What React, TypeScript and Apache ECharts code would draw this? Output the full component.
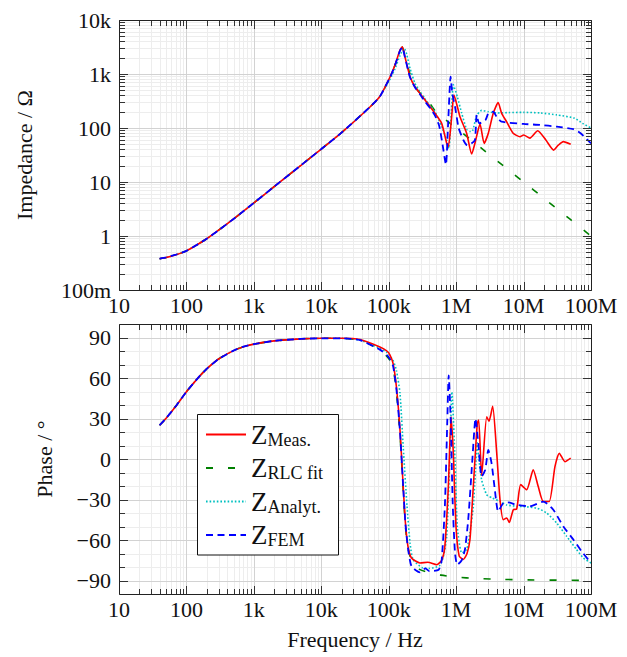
import React, { useEffect, useRef } from 'react';
import * as echarts from 'echarts';

const FONT = 'Liberation Serif';
const TEXT = '#111';

// ---- tick values & labels ----
const freqTicks = [10, 100, 1e3, 1e4, 1e5, 1e6, 1e7, 1e8];
const freqTickLabels = ['10', '100', '1k', '10k', '100k', '1M', '10M', '100M'];
const magTicks = [0.1, 1, 10, 100, 1e3, 1e4];
const magTickLabels = ['100m', '1', '10', '100', '1k', '10k'];
const phaseTicks = [-90, -60, -30, 0, 30, 60, 90];
const phaseTickLabels = ['\u221290', '\u221260', '\u221230', '0', '30', '60', '90'];
const phaseMinorTicks = [-80, -70, -50, -40, -20, -10, 10, 20, 40, 50, 70, 80];
const minorMultipliers = [2, 3, 4, 5, 6, 7, 8, 9];

// ---- data: [frequency Hz, |Z| ohm] ----
const commonMag = [
  [40, 0.38], [50, 0.4], [70, 0.45], [100, 0.53], [150, 0.71], [200, 0.89], [300, 1.28],
  [500, 2.07], [700, 2.88], [1000, 4.1], [2000, 8.2], [5000, 20.4], [10000, 40.8],
  [20000, 82], [52700, 245], [74000, 385],
];
const measMagHigh = [
  [104500, 880], [124000, 1470], [147000, 2780], [159000, 3200], [174000, 2090], [207000, 890],
  [245000, 580], [291000, 438], [345000, 331], [410000, 248], [486000, 187], [610000, 122],
  [724000, 52], [766000, 45], [850000, 140], [929000, 408], [1140000, 162], [1430000, 80],
  [1700000, 33], [1900000, 52], [2260000, 118], [2600000, 52], [3000000, 80], [3550000, 187],
  [4200000, 295], [4730000, 187], [5600000, 131], [7000000, 80], [8850000, 69], [10000000, 74],
  [12400000, 65], [16200000, 89], [21400000, 60], [28000000, 39], [32700000, 48],
  [38900000, 56], [50000000, 50],
];
const rlcMagHigh = [
  [104500, 870], [124000, 1450], [147000, 2750], [159000, 3150], [174000, 2100], [207000, 1000],
  [250000, 570], [300000, 420], [345000, 340], [410000, 280], [486000, 210], [610000, 162],
  [1000000, 100], [2000000, 50], [5000000, 20], [10000000, 10], [20000000, 5], [50000000, 2],
  [100000000, 1],
];
const analytMagHigh = [
  [104500, 800], [124000, 1250], [147000, 2200], [170000, 2990], [185000, 2300], [207000, 1270],
  [245000, 675], [291000, 470], [345000, 350], [410000, 260], [486000, 200], [610000, 106],
  [724000, 60], [780000, 42], [850000, 200], [908000, 630], [1040000, 380], [1210000, 187],
  [1430000, 95], [1600000, 86], [1750000, 88], [2020000, 170], [2390000, 212], [3000000, 200],
  [4000000, 190], [6000000, 193], [10000000, 195], [17500000, 190], [31000000, 175],
  [57000000, 152], [75000000, 122], [100000000, 100],
];
const femMagHigh = [
  [104500, 870], [124000, 1450], [147000, 2700], [159000, 3100], [174000, 2050], [207000, 870],
  [245000, 570], [291000, 420], [345000, 310], [410000, 235], [486000, 170], [560000, 110],
  [625000, 52], [705000, 21], [760000, 120], [828000, 890], [877000, 438], [962000, 248],
  [1090000, 100], [1280000, 60], [1460000, 48], [1700000, 52], [1900000, 60], [2020000, 175],
  [2200000, 122], [2730000, 141], [3000000, 187], [3550000, 200], [3980000, 162],
  [4730000, 131], [10000000, 119], [17500000, 114], [31000000, 106], [55000000, 95],
  [70000000, 80], [100000000, 52],
];

// ---- data: [frequency Hz, phase deg] ----
const commonPhase = [
  [40, 25], [50, 30.2], [70, 39.3], [100, 49.8], [150, 60.3], [200, 66.8], [300, 74.1],
  [500, 80.3], [700, 83.2], [1000, 85.1], [2000, 87.5], [5000, 89], [10000, 89.4], [20000, 89.4],
];
const measPhaseHigh = [
  [37500, 88.5], [74000, 83], [94000, 80], [104500, 77], [116000, 70.8], [130000, 53.5],
  [147000, 21.5], [164000, -20.4], [177000, -47.4], [193000, -64.7], [218000, -73.3],
  [291000, -77], [380000, -76.5], [515000, -78.3], [610000, -75], [680000, -64.7],
  [766000, -20.4], [840000, 31.3], [908000, 4.3], [995000, -50], [1110000, -72],
  [1280000, -74.4], [1450000, -70], [1600000, -60], [1700000, -40], [1900000, -0.7],
  [2060000, 26.4], [2160000, 28.9], [2390000, -12], [2840000, 31.3], [3070000, 28],
  [3480000, 39], [3990000, 5], [4470000, -30], [5000000, -45], [5620000, -43.7],
  [6140000, -47], [7030000, -37.6], [7900000, -37], [9060000, -19], [11100000, -22.8],
  [13900000, -8], [16500000, -20.4], [19600000, -31.5], [24000000, -31.5], [29200000, -5.6],
  [33900000, 4.3], [41100000, -2], [50000000, 0.6],
];
const rlcPhaseHigh = [
  [37500, 88], [74000, 81], [94000, 76], [104500, 73], [116000, 68], [130000, 50],
  [147000, 18], [164000, -23], [177000, -50], [193000, -66], [218000, -75], [291000, -82],
  [400000, -84], [600000, -86], [1000000, -87.5], [2000000, -88.5], [5000000, -89.2],
  [10000000, -89.5], [100000000, -90],
];
const analytPhaseHigh = [
  [37500, 88], [74000, 82], [94000, 79], [116000, 73], [130000, 65.8], [147000, 48.6],
  [164000, 9.2], [187000, -35], [207000, -62], [230000, -74.5], [320000, -80.7],
  [400000, -81], [567000, -79], [650000, -72], [725000, -57], [811000, 4.3], [865000, 49.8],
  [962000, -0.6], [1040000, -50], [1210000, -69.6], [1430000, -67], [1600000, -54.8],
  [1800000, -35], [1930000, -10], [2050000, 12], [2150000, 2], [2390000, -15.5],
  [2840000, -26.5], [3480000, -29], [4470000, -31.5], [5620000, -34], [7900000, -35],
  [11100000, -35.4], [16000000, -36.5], [22000000, -40], [31000000, -47.4],
  [43600000, -57.3], [61000000, -67], [77000000, -73.3], [100000000, -77],
];
const femPhaseHigh = [
  [37500, 88], [74000, 81], [94000, 77], [104500, 74], [116000, 69], [130000, 52],
  [147000, 20], [164000, -21], [177000, -48], [193000, -66], [218000, -79.5], [291000, -84],
  [350000, -81], [400000, -83], [550000, -82], [610000, -75], [680000, -35], [740000, 28.9],
  [775000, 62], [830000, 28.9], [889000, -32.7], [962000, -69.6], [1040000, -78.3],
  [1210000, -75], [1350000, -67], [1510000, -45], [1700000, -8], [1860000, 21.5],
  [1930000, 30], [2130000, 11.7], [2390000, -13], [2700000, -8], [3000000, 6.7],
  [3350000, -3], [3750000, -22.8], [4200000, -38.8], [5000000, -32.7], [5900000, -32.2],
  [7900000, -34], [12400000, -35], [19600000, -31.5], [27600000, -37.6], [38900000, -50],
  [55000000, -59.8], [72600000, -68.4], [91000000, -74.5], [100000000, -77],
];

const seriesNames = ['Meas.', 'RLC fit', 'Analyt.', 'FEM'];
const seriesColors = ['#ff0000', '#008000', '#00c0c0', '#0000ff'];

function logMinors(lo: number, hi: number) {
  const out: number[] = [];
  for (let d = lo; d < hi; d *= 10) minorMultipliers.forEach((m) => out.push(m * d));
  return out;
}
const freqMinor = logMinors(10, 1e8);
const magMinor = logMinors(0.1, 1e4);

const MAJOR_GRID = '#d2d2d2';
const MINOR_GRID = '#ededed';
const FRAME = '#222';
const TICK = '#333';

function snap(v: number) {
  return Math.round(v) + 0.5;
}

function gridRenderer(yMajor: number[], yMinor: number[], yRef: number) {
  return (params: any, api: any) => {
    const cs = params.coordSys;
    const t = cs.y, b = cs.y + cs.height, l = cs.x, r = cs.x + cs.width;
    const children: any[] = [];
    const vx = (v: number) => snap(api.coord([v, yRef])[0]);
    const vy = (v: number) => snap(api.coord([1000, v])[1]);
    const add = (x1: number, y1: number, x2: number, y2: number, stroke: string) =>
      children.push({ type: 'line', shape: { x1, y1, x2, y2 }, style: { stroke, lineWidth: 1 } });
    freqMinor.forEach((v) => { const x = vx(v); add(x, t, x, b, MINOR_GRID); });
    yMinor.forEach((v) => { const y = vy(v); add(l, y, r, y, MINOR_GRID); });
    freqTicks.forEach((v) => { const x = vx(v); add(x, t, x, b, MAJOR_GRID); });
    yMajor.forEach((v) => { const y = vy(v); add(l, y, r, y, MAJOR_GRID); });
    return { type: 'group', children };
  };
}

function tickRenderer(yMajor: number[], yMinor: number[], yRef: number) {
  return (params: any, api: any) => {
    const cs = params.coordSys;
    const t = snap(cs.y), b = snap(cs.y + cs.height), l = snap(cs.x), r = snap(cs.x + cs.width);
    const children: any[] = [];
    const vx = (v: number) => snap(api.coord([v, yRef])[0]);
    const vy = (v: number) => snap(api.coord([1000, v])[1]);
    const add = (x1: number, y1: number, x2: number, y2: number) =>
      children.push({ type: 'line', shape: { x1, y1, x2, y2 }, style: { stroke: TICK, lineWidth: 1 } });
    const MAJ = 8.5, MIN = 5.5;
    freqTicks.forEach((v) => { const x = vx(v); add(x, b, x, b - MAJ); add(x, t, x, t + MAJ); });
    freqMinor.forEach((v) => { const x = vx(v); add(x, b, x, b - MIN); add(x, t, x, t + MIN); });
    yMajor.forEach((v) => { const y = vy(v); add(l, y, l + MAJ, y); add(r, y, r - MAJ, y); });
    yMinor.forEach((v) => { const y = vy(v); add(l, y, l + MIN, y); add(r, y, r - MIN, y); });
    children.push({
      type: 'rect',
      shape: { x: l, y: t, width: r - l, height: b - t },
      style: { fill: 'none', stroke: FRAME, lineWidth: 1 },
    });
    return { type: 'group', children };
  };
}

function freqLabel(v: number) {
  const i = freqTicks.findIndex((t) => Math.abs(Math.log10(t) - Math.log10(v)) < 1e-6);
  return i >= 0 ? freqTickLabels[i] : '';
}
function magLabel(v: number) {
  const i = magTicks.findIndex((t) => Math.abs(Math.log10(t) - Math.log10(v)) < 1e-6);
  return i >= 0 ? magTickLabels[i] : '';
}
function phaseLabel(v: number) {
  const i = phaseTicks.indexOf(Math.round(v));
  return i >= 0 ? phaseTickLabels[i] : '';
}

const txt = { fontFamily: FONT, fontSize: 22, fontStyle: 'normal', fontWeight: 'normal', color: TEXT };

function xAxisFor(gridIndex: number, withName: boolean) {
  return {
    type: 'log',
    logBase: 10,
    gridIndex,
    min: 10,
    max: 1e8,
    axisLine: { show: false },
    axisTick: { show: false },
    splitLine: { show: false },
    minorTick: { show: false },
    axisLabel: {
      ...txt,
      margin: 4,
      customValues: freqTicks,
      formatter: (v: number) => freqLabel(v),
      showMinLabel: true,
      showMaxLabel: true,
    },
    name: withName ? 'Frequency / Hz' : '',
    nameLocation: 'middle',
    nameGap: 34,
    nameTextStyle: { ...txt },
  };
}

const lineStyles = [
  { width: 1.6, type: 'solid' },
  { width: 1.6, type: [7, 15] },
  { width: 1.6, type: [1.6, 2] },
  { width: 1.8, type: [7, 4.5] },
];

function curve(nameIdx: number, axisIdx: number, data: number[][], z: number) {
  return {
    type: 'line',
    name: seriesNames[nameIdx],
    xAxisIndex: axisIdx,
    yAxisIndex: axisIdx,
    data,
    showSymbol: false,
    symbol: 'none',
    smooth: 0.2,
    color: seriesColors[nameIdx],
    lineStyle: { color: seriesColors[nameIdx], ...lineStyles[nameIdx] },
    z,
  };
}

const option: any = {
  animation: false,
  backgroundColor: '#fff',
  grid: [
    { left: 119, top: 20, width: 472, height: 270 },
    { left: 119, top: 324, width: 472, height: 270 },
  ],
  xAxis: [xAxisFor(0, false), xAxisFor(1, true)],
  yAxis: [
    {
      type: 'log',
      logBase: 10,
      gridIndex: 0,
      min: 0.1,
      max: 1e4,
      axisLine: { show: false },
      axisTick: { show: false },
      splitLine: { show: false },
      axisLabel: {
        ...txt,
        margin: 8,
        customValues: magTicks,
        formatter: (v: number) => magLabel(v),
        showMinLabel: true,
        showMaxLabel: true,
      },
      name: 'Impedance / \u03A9',
      nameLocation: 'middle',
      nameGap: 84,
      nameTextStyle: { ...txt },
    },
    {
      type: 'value',
      gridIndex: 1,
      min: -100,
      max: 100,
      axisLine: { show: false },
      axisTick: { show: false },
      splitLine: { show: false },
      axisLabel: {
        ...txt,
        margin: 8,
        customValues: phaseTicks,
        formatter: (v: number) => phaseLabel(v),
      },
      name: 'Phase / \u00B0',
      nameLocation: 'middle',
      nameGap: 64,
      nameTextStyle: { ...txt },
    },
  ],
  legend: {
    data: seriesNames,
    orient: 'vertical',
    left: 205,
    top: 421,
    padding: 0,
    itemWidth: 40,
    itemHeight: 10,
    itemGap: 6,
    selectedMode: false,
    z: 12,
    itemStyle: { opacity: 0, borderWidth: 0 },
    formatter: (name: string) => `{z|Z}{s|${name}}`,
    textStyle: {
      fontFamily: FONT,
      fontSize: 18,
      fontStyle: 'normal',
      fontWeight: 'normal',
      color: TEXT,
      rich: {
        z: { fontFamily: FONT, fontSize: 27, lineHeight: 28, color: TEXT },
        s: { fontFamily: FONT, fontSize: 18, lineHeight: 18, verticalAlign: 'bottom', color: TEXT },
      },
    },
  },
  graphic: [
    {
      type: 'rect',
      z: 10,
      shape: { x: 197.5, y: 414.5, width: 141, height: 140.5 },
      style: { fill: '#fff', stroke: '#111', lineWidth: 1 },
    },
  ],
  series: [
    {
      type: 'custom', xAxisIndex: 0, yAxisIndex: 0, z: 1, silent: true, clip: false,
      data: [[1000, 1]], renderItem: gridRenderer(magTicks, magMinor, 1),
    },
    {
      type: 'custom', xAxisIndex: 1, yAxisIndex: 1, z: 1, silent: true, clip: false,
      data: [[1000, 0]], renderItem: gridRenderer(phaseTicks, phaseMinorTicks, 0),
    },
    curve(1, 0, [...commonMag, ...rlcMagHigh], 3),
    curve(2, 0, [...commonMag, ...analytMagHigh], 4),
    curve(0, 0, [...commonMag, ...measMagHigh], 5),
    curve(3, 0, [...commonMag, ...femMagHigh], 6),
    curve(1, 1, [...commonPhase, ...rlcPhaseHigh], 3),
    curve(2, 1, [...commonPhase, ...analytPhaseHigh], 4),
    curve(0, 1, [...commonPhase, ...measPhaseHigh], 5),
    curve(3, 1, [...commonPhase, ...femPhaseHigh], 6),
    {
      type: 'custom', xAxisIndex: 0, yAxisIndex: 0, z: 8, silent: true, clip: false,
      data: [[1000, 1]], renderItem: tickRenderer(magTicks, magMinor, 1),
    },
    {
      type: 'custom', xAxisIndex: 1, yAxisIndex: 1, z: 8, silent: true, clip: false,
      data: [[1000, 0]], renderItem: tickRenderer(phaseTicks, phaseMinorTicks, 0),
    },
  ],
};

const css = `#impchart text { font-family: 'Liberation Serif', 'Times New Roman', serif !important; }`;

export default function App() {
  const ref = useRef<HTMLDivElement>(null);
  useEffect(() => {
    if (!ref.current) return;
    const chart = echarts.init(ref.current, null, { renderer: 'svg' });
    chart.setOption(option);
    return () => chart.dispose();
  }, []);
  return (
    <>
      <style>{css}</style>
      <div
        id="impchart"
        ref={ref}
        style={{ position: 'fixed', left: 0, top: 0, width: 627, height: 657, background: '#fff' }}
      />
    </>
  );
}
